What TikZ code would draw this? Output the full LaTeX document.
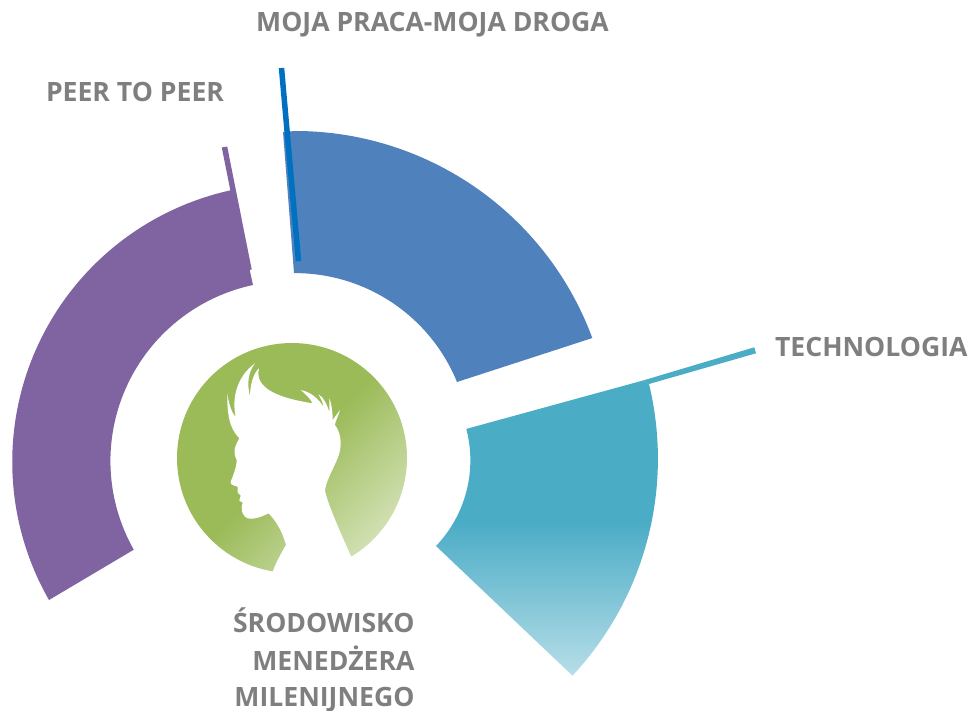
\documentclass[tikz,border=0pt]{standalone}
\usepackage{fontspec}
\setmainfont{Open Sans}
\definecolor{cpurple}{HTML}{8064A2}
\definecolor{cblue}{HTML}{4F81BD}
\definecolor{cline}{HTML}{0070C0}
\definecolor{cteal}{HTML}{4BACC6}
\definecolor{ctealL}{HTML}{B7DEE8}
\definecolor{cgreen}{HTML}{9BBB59}
\definecolor{cgreenL}{HTML}{D7E4BC}
\definecolor{ctxt}{HTML}{7F7F7F}
\pgfdeclareverticalshading{tealgrad}{100bp}{color(0bp)=(ctealL); color(25bp)=(ctealL); color(51bp)=(cteal); color(100bp)=(cteal)}
\pgfdeclarehorizontalshading{greengrad}{100bp}{color(0bp)=(cgreen); color(50bp)=(cgreen); color(78bp)=(cgreenL); color(100bp)=(cgreenL)}
\tikzset{lab/.style={text=ctxt,font=\fontsize{26.6}{38}\selectfont\bfseries,inner sep=0pt,outer sep=0pt}}
\begin{document}
\begin{tikzpicture}[x=1pt,y=1pt,yscale=-1]
\useasboundingbox (0,0) rectangle (973,711);
% purple
\fill[cpurple] (49,600) arc[start angle=150.2,end angle=257.96,radius=278] -- (253,285)
  arc[start angle=258,end angle=150.5,radius=180] -- cycle;
\draw[cpurple,line width=5.5pt] (224.5,147) -- (249,270);
% blue
\fill[cblue] (283,132) -- (295,131) arc[start angle=270,end angle=339.7,radius=317] -- (457,382) arc[start angle=337.8,end angle=270,radius=175] -- (294,273) -- cycle;
\draw[cline,line width=5.5pt] (281.5,68) -- (298.5,261);
% teal
\fill[cteal] (643,380.5) -- (754.3,347.3) -- (756,353.3) -- (649,384) -- cycle;
\shade[shading=tealgrad] (466,429) -- (643,380.5) -- (649,384) arc[start angle=-13.6,end angle=43,radius=318] -- (436,546) arc[start angle=43.7,end angle=-14.5,radius=124] -- cycle;
% green
\shade[shading=greengrad,shading angle=-45] (292,458) circle[radius=115];
% head
\begin{scope}[shift={(170,335)},scale=1/3]
\fill[white] (308,712)
.. controls (312,695) and (330,660) .. (348,630)
.. controls (340,600) and (325,565) .. (296,535)
.. controls (275,545) and (240,560) .. (225,545)
.. controls (215,535) and (212,520) .. (218,503)
-- (208,497) -- (212,482) -- (203,472) -- (203,455)
.. controls (190,452) and (180,448) .. (182,440)
.. controls (190,420) and (200,395) .. (200,375)
.. controls (190,355) and (190,340) .. (208,310)
.. controls (190,290) and (170,265) .. (172,175)
.. controls (176,205) and (185,235) .. (197,245)
.. controls (185,190) and (200,125) .. (255,85)
.. controls (235,110) and (230,145) .. (240,185)
.. controls (240,150) and (250,115) .. (267,100)
.. controls (255,150) and (300,185) .. (428,205)
.. controls (420,190) and (405,175) .. (392,165)
.. controls (420,170) and (445,190) .. (460,215)
.. controls (460,205) and (452,190) .. (445,178)
.. controls (460,185) and (472,210) .. (478,232)
.. controls (478,215) and (478,200) .. (478,190)
.. controls (485,205) and (488,235) .. (488,255)
.. controls (495,245) and (503,235) .. (510,225)
.. controls (505,245) and (495,260) .. (495,270)
.. controls (510,290) and (517,320) .. (508,355)
.. controls (500,385) and (470,430) .. (465,465)
.. controls (470,500) and (510,590) .. (545,668)
-- (545,720) -- (308,720) -- cycle;
\end{scope}
% labels
\node[lab,anchor=base] (a) at (432.5,32) {MOJA PRACA-MOJA DROGA};
\node[lab,anchor=base west] (b) at (46,102) {PEER TO PEER};
\node[lab,anchor=base west] (c) at (775,356) {TECHNOLOGIA};
\node[lab,anchor=base east] (d) at (414.5,632) {ŚRODOWISKO};
\node[lab,anchor=base east] (e) at (414.5,670) {MENEDŻERA};
\node[lab,anchor=base east] (f) at (414.5,706.5) {MILENIJNEGO};
\end{tikzpicture}
\end{document}
